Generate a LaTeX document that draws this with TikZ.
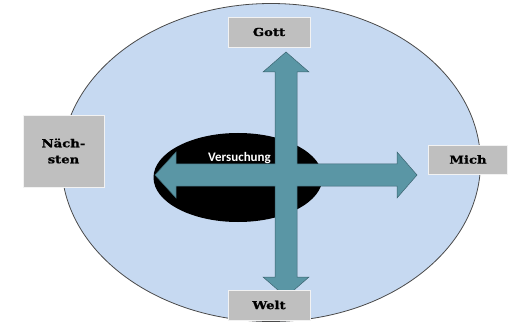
\documentclass[tikz,border=0pt]{standalone}
\usepackage{fontspec}
\newfontfamily\boxfont{DejaVu Serif Bold}[FakeStretch=1.2, FakeBold=1.2]
\newfontfamily\innerfont{Carlito Bold}
\definecolor{worldblue}{HTML}{C6D9F1}
\definecolor{rimgray}{HTML}{4A4A4A}
\definecolor{boxgray}{HTML}{BFBFBF}
\definecolor{crossteal}{HTML}{5A96A5}
\definecolor{crossrim}{HTML}{3B6470}

\begin{document}
\begin{tikzpicture}[x=1pt,y=1pt,
  labelbox/.style={draw=white!95!black, fill=boxgray, line width=0.6pt,
    minimum width=82, minimum height=30, inner sep=0pt,
    font=\boxfont\fontsize{11}{16}\selectfont}]
\useasboundingbox (0,0) rectangle (508,-323);
\draw [rimgray, fill=worldblue, line width=0.8pt] (271,-162.5) ellipse (209.5 and 159);
\fill [black] (238,-177.5) ellipse (84.5 and 44.5);
\draw [crossrim, fill=crossteal, line width=0.5pt]
  (286,-52) -- (309,-72) -- (297,-72) -- (297,-164) -- (397,-164) -- (397,-152)
  -- (417,-175) -- (397,-198) -- (397,-186) -- (297,-186) -- (297,-277)
  -- (309,-277) -- (286,-297) -- (263,-277) -- (275,-277) -- (275,-186)
  -- (176,-186) -- (176,-198) -- (155,-175) -- (176,-152) -- (176,-164)
  -- (275,-164) -- (275,-72) -- (263,-72) -- cycle;
\node [white, anchor=base, inner sep=0pt, font=\innerfont\fontsize{13}{15}\selectfont]
  (versuchung) at (239.5,-161) {Versuchung};
\node [labelbox] (gott) at (269,-32) {Gott};
\node [labelbox] (welt) at (269,-305) {Welt};
\node [labelbox, minimum width=81, minimum height=72, align=center] (naechsten) at (63.5,-151) {Näch-\\sten};
\node [labelbox, minimum width=79, minimum height=29] (mich) at (468,-159.5) {Mich};
\end{tikzpicture}
\end{document}
